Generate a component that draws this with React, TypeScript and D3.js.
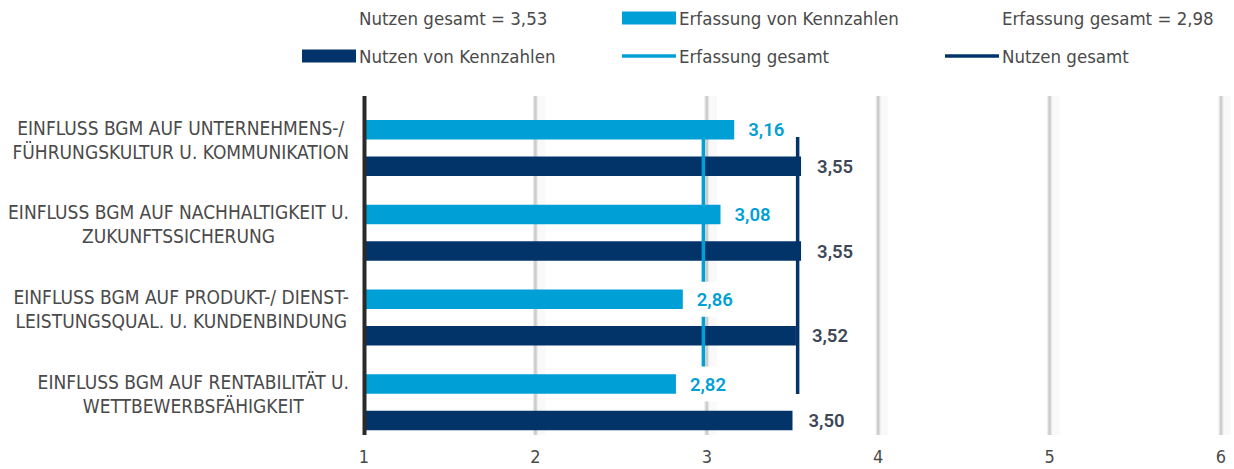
import React, { useEffect, useRef } from 'react';
import * as d3 from 'd3';

const categories: string[][] = [
  ['EINFLUSS BGM AUF UNTERNEHMENS-/', 'FÜHRUNGSKULTUR U. KOMMUNIKATION'],
  ['EINFLUSS BGM AUF NACHHALTIGKEIT U.', 'ZUKUNFTSSICHERUNG'],
  ['EINFLUSS BGM AUF PRODUKT-/ DIENST-', 'LEISTUNGSQUAL. U. KUNDENBINDUNG'],
  ['EINFLUSS BGM AUF RENTABILITÄT U.', 'WETTBEWERBSFÄHIGKEIT'],
];
const erfassung = [3.16, 3.08, 2.86, 2.82];
const nutzen = [3.55, 3.55, 3.52, 3.5];
const erfassungGesamt = 2.98;
const nutzenGesamt = 3.53;
const xTicks = [1, 2, 3, 4, 5, 6];

const LIGHT = '#00a0d6';
const DARK = '#02346a';
const TEXT = '#4a4a4a';
const NARROW = '"Liberation Sans Narrow", "DejaVu Sans Condensed", "Roboto Condensed", Roboto, sans-serif';

const legendItems = [
  { label: 'Nutzen gesamt = 3,53', kind: 'none', color: DARK, row: 0, col: 0 },
  { label: 'Erfassung von Kennzahlen', kind: 'rect', color: LIGHT, row: 0, col: 1 },
  { label: 'Erfassung gesamt = 2,98', kind: 'none', color: LIGHT, row: 0, col: 2 },
  { label: 'Nutzen von Kennzahlen', kind: 'rect', color: DARK, row: 1, col: 0 },
  { label: 'Erfassung gesamt', kind: 'line', color: LIGHT, row: 1, col: 1 },
  { label: 'Nutzen gesamt', kind: 'line', color: DARK, row: 1, col: 2 },
];

const fmt = (v: number) => d3.format('.2f')(v).replace('.', ',');

const App: React.FC = () => {
  const svgRef = useRef<SVGSVGElement>(null);

  useEffect(() => {
    const svg = d3.select(svgRef.current);
    if (!svgRef.current) return;
    svg.selectAll('*').remove();

    const top = 96;
    const bottom = 435;
    const x = d3.scaleLinear().domain([1, 6]).range([364, 1221]);
    const idx = categories.map((_, i) => String(i));
    const y = d3.scaleBand().domain(idx).range([top, bottom]);
    const inner = d3.scaleBand().domain(['e', 'n']).range([24, 80]).paddingInner(0.466);

    // gridlines (soft grey)
    const grid = svg.append('g');
    xTicks.slice(1).forEach((t) => {
      grid.append('rect').attr('x', x(t) + 1).attr('y', top).attr('width', 9).attr('height', bottom - top).attr('fill', '#f9f9f9');
      grid.append('line').attr('x1', x(t)).attr('x2', x(t)).attr('y1', top).attr('y2', bottom)
        .attr('stroke', '#ebebeb').attr('stroke-width', 5);
      grid.append('line').attr('x1', x(t)).attr('x2', x(t)).attr('y1', top).attr('y2', bottom)
        .attr('stroke', '#cdcdcd').attr('stroke-width', 2.5);
    });

    // tick labels
    svg.append('g').selectAll('text').data(xTicks).join('text')
      .attr('x', (d) => x(d)).attr('y', 463).attr('text-anchor', 'middle')
      .attr('font-family', NARROW).attr('font-size', 18).attr('fill', TEXT)
      .text((d) => d);

    // bars
    const bars = svg.append('g');
    bars.selectAll('rect.e').data(erfassung).join('rect').attr('class', 'e')
      .attr('x', x(1)).attr('y', (_, i) => y(String(i))! + inner('e')!)
      .attr('width', (d) => x(d) - x(1)).attr('height', inner.bandwidth()).attr('fill', LIGHT);
    bars.selectAll('rect.n').data(nutzen).join('rect').attr('class', 'n')
      .attr('x', x(1)).attr('y', (_, i) => y(String(i))! + inner('n')!)
      .attr('width', (d) => x(d) - x(1)).attr('height', inner.bandwidth()).attr('fill', DARK);

    // total lines
    const lineTop = y('0')! + 41;
    const lineBottom = y(String(categories.length - 1))! + 43.75;
    svg.append('line').attr('x1', x(nutzenGesamt)).attr('x2', x(nutzenGesamt))
      .attr('y1', lineTop).attr('y2', lineBottom).attr('stroke', DARK).attr('stroke-width', 3.5);
    svg.append('line').attr('x1', x(erfassungGesamt)).attr('x2', x(erfassungGesamt))
      .attr('y1', lineTop).attr('y2', lineBottom).attr('stroke', LIGHT).attr('stroke-width', 3.5);

    // value labels with white boxes
    const addLabels = (vals: number[], key: string, color: string, gap: number) => {
      const g = svg.append('g');
      vals.forEach((v, i) => {
        const cy = y(String(i))! + inner(key)! + inner.bandwidth() / 2;
        const t = g.append('text').attr('x', x(v) + gap).attr('y', cy).attr('dy', '0.36em')
          .attr('font-family', 'Roboto, sans-serif').attr('font-weight', 600)
          .attr('font-size', 18.5).attr('fill', color).text(fmt(v));
        const w = (t.node() as SVGTextElement).getComputedTextLength();
        g.insert('rect', 'text').attr('x', x(v) + gap - 5).attr('y', cy - 17.5)
          .attr('width', w + 10).attr('height', 35).attr('fill', '#fff');
      });
    };
    addLabels(erfassung, 'e', LIGHT, 14);
    addLabels(nutzen, 'n', '#3e4757', 16);

    // left axis
    svg.append('line').attr('x1', x(1) + 0.5).attr('x2', x(1) + 0.5).attr('y1', top).attr('y2', bottom)
      .attr('stroke', '#2a2a2a').attr('stroke-width', 4);

    // category labels, block right aligned, lines centred
    const right = 349;
    categories.forEach((lines, i) => {
      const g = svg.append('g');
      const cy = y(String(i))! + y.bandwidth() / 2 + 1.5;
      const texts = lines.map((l, k) => g.append('text')
        .attr('y', cy + (k - (lines.length - 1) / 2) * 24).attr('dy', '0.36em')
        .attr('text-anchor', 'middle').attr('font-family', NARROW)
        .attr('font-size', 19).attr('fill', TEXT).text(l));
      const maxW = d3.max(texts, (t) => (t.node() as SVGTextElement).getComputedTextLength()) || 0;
      texts.forEach((t) => t.attr('x', right - maxW / 2));
    });

    // legend
    const colX = [302, 622, 945];
    const rowY = [18, 56];
    const lg = svg.append('g');
    legendItems.forEach((it) => {
      const lx = colX[it.col];
      const ly = rowY[it.row];
      if (it.kind === 'rect') {
        lg.append('rect').attr('x', lx).attr('y', ly - 6.5).attr('width', 54).attr('height', 13).attr('fill', it.color);
      } else if (it.kind === 'line') {
        lg.append('line').attr('x1', lx).attr('x2', lx + 54).attr('y1', ly).attr('y2', ly)
          .attr('stroke', it.color).attr('stroke-width', 3.5);
      }
      lg.append('text').attr('x', lx + 57).attr('y', ly).attr('dy', '0.36em')
        .attr('font-family', NARROW).attr('font-size', 18.5).attr('fill', TEXT).text(it.label);
    });
  }, []);

  return (
    <svg
      ref={svgRef}
      width={1234}
      height={469}
      style={{ position: 'absolute', left: 0, top: 0, background: '#fff' }}
    />
  );
};

export default App;
